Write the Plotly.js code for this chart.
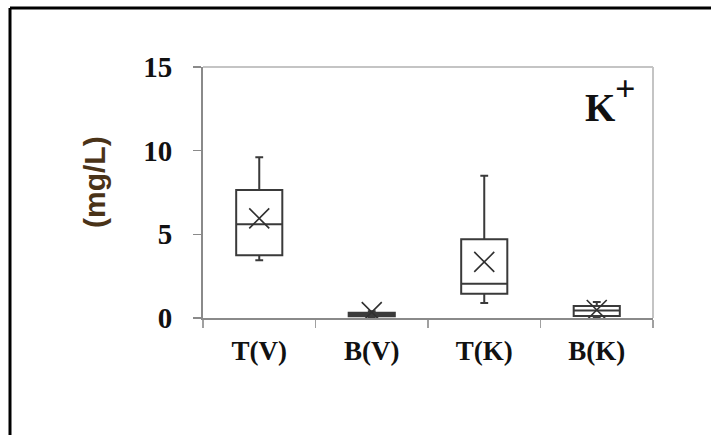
<!DOCTYPE html>
<html>
<head>
<meta charset="utf-8">
<script src="https://cdn.plot.ly/plotly-3.0.1.min.js"></script>
<style>html,body{margin:0;padding:0;background:#fff;}#chart{width:711px;height:435px;}</style>
</head>
<body>
<div id="chart"></div>
<script>
const categories = ["T(V)", "B(V)", "T(K)", "B(K)"];
const lowerWhisker = [3.45, 0.05, 0.9, 0.05];
const q1Values = [3.75, 0.1, 1.45, 0.12];
const medianValues = [5.6, 0.2, 2.05, 0.45];
const q3Values = [7.65, 0.32, 4.7, 0.72];
const upperWhisker = [9.6, 0.4, 8.5, 0.95];
const meanValues = [5.95, 0.35, 3.35, 0.48];
const yTicks = [0, 5, 10, 15];
const yTitle = "(mg/L)";
const ionLabel = "K";
const ionCharge = "+";

const serif = "Liberation Serif, Times New Roman, serif";

const boxTrace = {
  type: "box",
  x: categories,
  q1: q1Values,
  median: medianValues,
  q3: q3Values,
  lowerfence: lowerWhisker,
  upperfence: upperWhisker,
  boxpoints: false,
  width: 0.41,
  whiskerwidth: 0.17,
  fillcolor: "#ffffff",
  line: {color: "#3a3a3a", width: 2},
  showlegend: false,
  hoverinfo: "skip"
};

const meanTrace = {
  type: "scatter",
  mode: "markers",
  x: categories,
  y: meanValues,
  marker: {symbol: "x-thin-open", size: 20, color: "#303030", line: {color: "#303030", width: 1.6}},
  showlegend: false,
  hoverinfo: "skip"
};

const L = 203, R = 58, T = 67, B = 117;
const W = 711 - L - R, H = 435 - T - B;
const px = v => (v - L) / W;
const py = v => (435 - B - v) / H;

const layout = {
  width: 711,
  height: 435,
  margin: {l: L, r: R, t: T, b: B, pad: 0},
  paper_bgcolor: "#ffffff",
  plot_bgcolor: "#ffffff",
  showlegend: false,
  xaxis: {
    type: "category",
    range: [-0.5, 3.5],
    showline: true,
    linecolor: "#8a8a8a",
    linewidth: 2,
    ticks: "outside",
    tickson: "boundaries",
    ticklen: 8,
    tickcolor: "#a0a0a0",
    tickwidth: 1.5,
    showgrid: false,
    zeroline: false,
    tickfont: {family: serif, size: 27, color: "#111", weight: "bold"},
    ticklabelstandoff: 8
  },
  yaxis: {
    range: [0, 15],
    tickvals: yTicks,
    ticktext: yTicks.map(String),
    showline: true,
    linecolor: "#8a8a8a",
    linewidth: 2,
    ticks: "outside",
    ticklen: 8,
    tickcolor: "#8a8a8a",
    tickwidth: 1.5,
    showgrid: false,
    zeroline: false,
    tickfont: {family: serif, size: 29, color: "#111", weight: "bold"},
    ticklabelstandoff: 15
  },
  shapes: [
    {type: "line", xref: "paper", yref: "paper", x0: 0, x1: 1, y0: 1, y1: 1, line: {color: "#c4c4c4", width: 2}},
    {type: "line", xref: "paper", yref: "paper", x0: 1, x1: 1, y0: 0, y1: 1, line: {color: "#c4c4c4", width: 2}},
    {type: "line", xref: "paper", yref: "paper", x0: px(10), x1: px(10), y0: py(440), y1: py(8), line: {color: "#000", width: 3}},
    {type: "line", xref: "paper", yref: "paper", x0: px(10), x1: px(715), y0: py(8), y1: py(8), line: {color: "#000", width: 3}}
  ],
  annotations: [
    {xref: "paper", yref: "paper", x: px(94), y: py(182), xanchor: "center", yanchor: "middle",
     text: yTitle, textangle: -90, showarrow: false,
     font: {family: "Liberation Sans, Arial, sans-serif", size: 30, color: "#4a3318", weight: "bold"}},
    {xref: "paper", yref: "paper", x: px(600), y: py(107), xanchor: "center", yanchor: "middle",
     text: ionLabel, showarrow: false,
     font: {family: serif, size: 39, color: "#111", weight: "bold"}},
    {xref: "paper", yref: "paper", x: px(625), y: py(89), xanchor: "center", yanchor: "middle",
     text: ionCharge, showarrow: false,
     font: {family: serif, size: 36, color: "#111", weight: "bold"}}
  ]
};

Plotly.newPlot("chart", [boxTrace, meanTrace], layout, {displayModeBar: false, staticPlot: true});
</script>
</body>
</html>
